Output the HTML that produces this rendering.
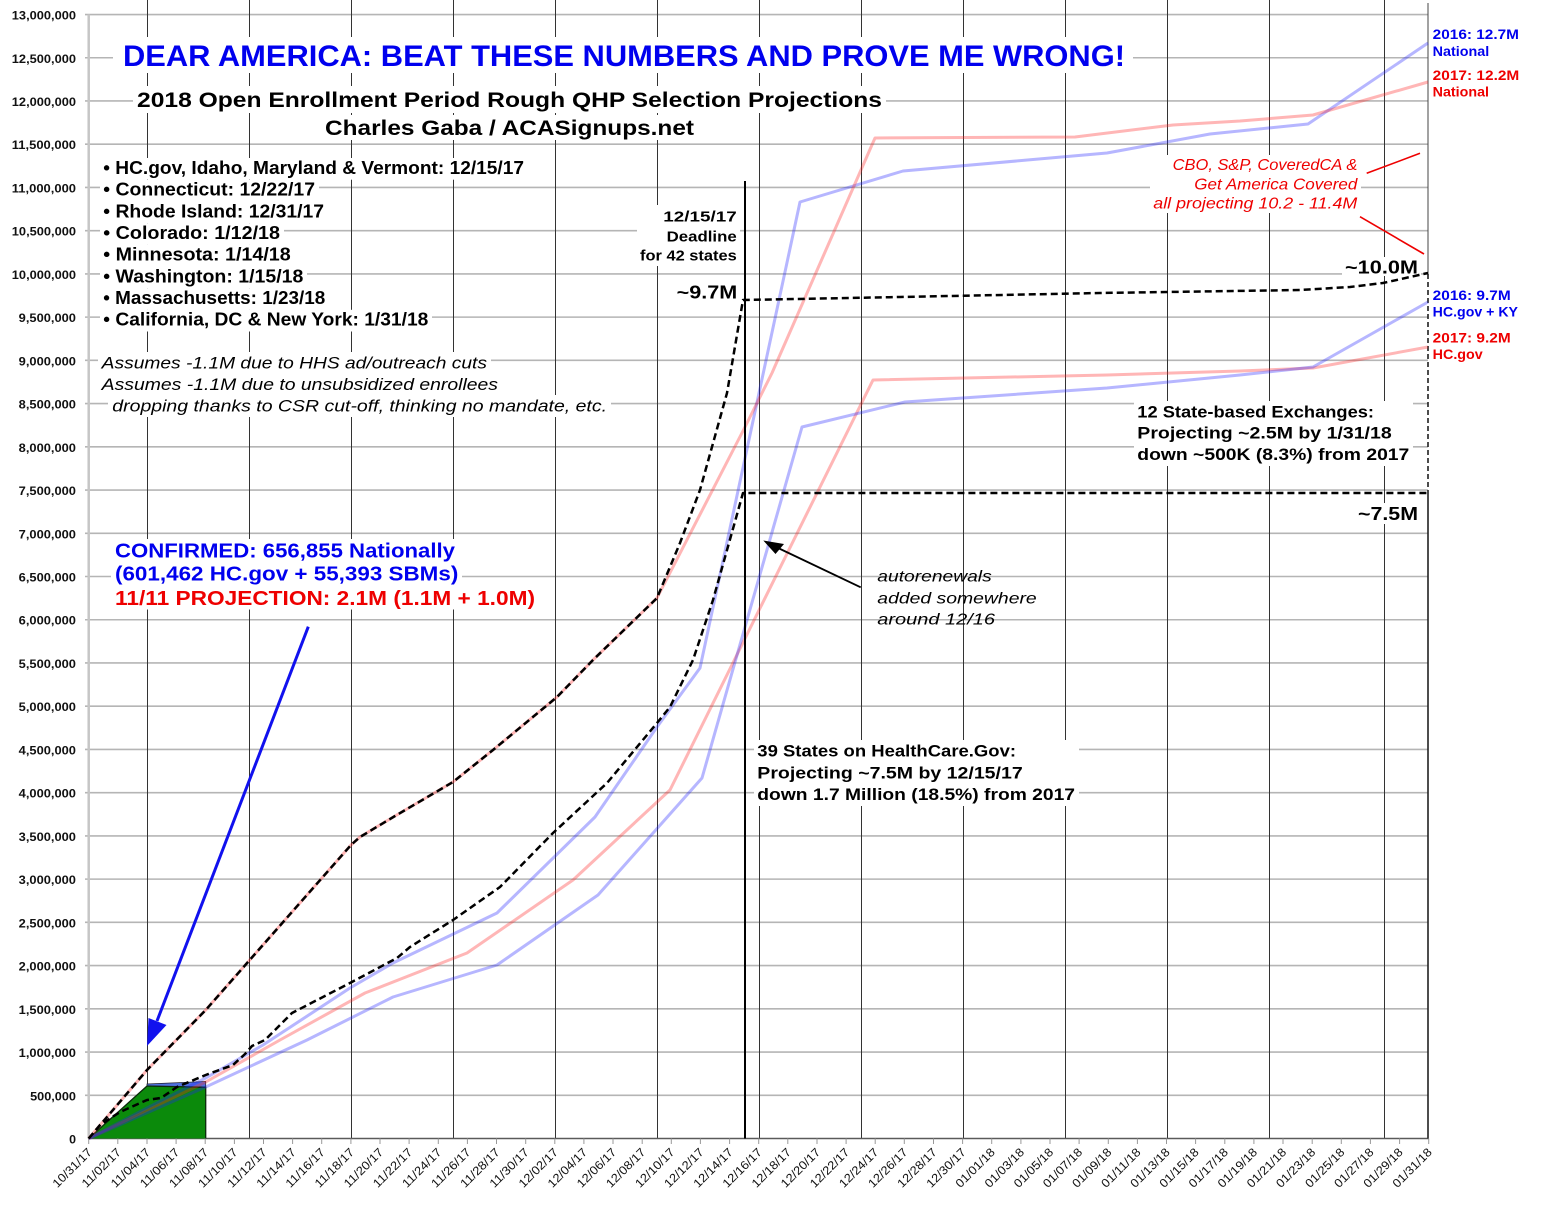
<!DOCTYPE html>
<html><head><meta charset="utf-8"><style>
html,body{margin:0;padding:0;background:#fff;}
svg{display:block;font-family:"Liberation Sans",Arial,sans-serif;}
</style></head><body>
<svg width="1550" height="1214" viewBox="0 0 1550 1214" xmlns="http://www.w3.org/2000/svg">
<rect x="0" y="0" width="1550" height="1214" fill="#fff"/>
<!-- horizontal gridlines -->
<g stroke="#b5b5b5" stroke-width="1.6">
<line x1="85" y1="1095.27" x2="1428" y2="1095.27"/><line x1="85" y1="1052.04" x2="1428" y2="1052.04"/>
<line x1="85" y1="1008.81" x2="1428" y2="1008.81"/><line x1="85" y1="965.58" x2="1428" y2="965.58"/>
<line x1="85" y1="922.35" x2="1428" y2="922.35"/><line x1="85" y1="879.12" x2="1428" y2="879.12"/>
<line x1="85" y1="835.89" x2="1428" y2="835.89"/><line x1="85" y1="792.66" x2="1428" y2="792.66"/>
<line x1="85" y1="749.43" x2="1428" y2="749.43"/><line x1="85" y1="706.2" x2="1428" y2="706.2"/>
<line x1="85" y1="662.97" x2="1428" y2="662.97"/><line x1="85" y1="619.74" x2="1428" y2="619.74"/>
<line x1="85" y1="576.51" x2="1428" y2="576.51"/><line x1="85" y1="533.28" x2="1428" y2="533.28"/>
<line x1="85" y1="490.05" x2="1428" y2="490.05"/><line x1="85" y1="446.82" x2="1428" y2="446.82"/>
<line x1="85" y1="403.59" x2="1428" y2="403.59"/><line x1="85" y1="360.36" x2="1428" y2="360.36"/>
<line x1="85" y1="317.13" x2="1428" y2="317.13"/><line x1="85" y1="273.9" x2="1428" y2="273.9"/>
<line x1="85" y1="230.67" x2="1428" y2="230.67"/><line x1="85" y1="187.44" x2="1428" y2="187.44"/>
<line x1="85" y1="144.21" x2="1428" y2="144.21"/><line x1="85" y1="100.98" x2="1428" y2="100.98"/>
<line x1="85" y1="57.75" x2="1428" y2="57.75"/><line x1="85" y1="14.52" x2="1428" y2="14.52"/>
</g>
<!-- vertical gridlines -->
<g stroke="#333" stroke-width="1">
<line x1="147.5" y1="0" x2="147.5" y2="1138.5"/><line x1="249.5" y1="0" x2="249.5" y2="1138.5"/>
<line x1="351.5" y1="0" x2="351.5" y2="1138.5"/><line x1="453.5" y1="0" x2="453.5" y2="1138.5"/>
<line x1="555.5" y1="0" x2="555.5" y2="1138.5"/><line x1="657.5" y1="0" x2="657.5" y2="1138.5"/>
<line x1="759.5" y1="0" x2="759.5" y2="1138.5"/><line x1="861.5" y1="0" x2="861.5" y2="1138.5"/>
<line x1="963.5" y1="0" x2="963.5" y2="1138.5"/><line x1="1065.5" y1="0" x2="1065.5" y2="1138.5"/>
<line x1="1167.5" y1="0" x2="1167.5" y2="1138.5"/><line x1="1269.5" y1="0" x2="1269.5" y2="1138.5"/>
<line x1="1384.5" y1="0" x2="1384.5" y2="1138.5"/>
</g>
<!-- axes -->
<line x1="88.7" y1="14.5" x2="88.7" y2="1138.5" stroke="#c6c6c6" stroke-width="2.5"/>
<line x1="88.7" y1="1138.5" x2="1428.5" y2="1138.5" stroke="#5a5a5a" stroke-width="1.6"/>
<line x1="1428" y1="3" x2="1428" y2="274" stroke="#444" stroke-width="1"/>
<line x1="1428" y1="274" x2="1428" y2="493" stroke="#111" stroke-width="1.5" stroke-dasharray="5 3"/>
<line x1="1428" y1="493" x2="1428" y2="1138.5" stroke="#222" stroke-width="1.6"/>
<!-- x ticks -->
<g stroke="#999" stroke-width="1">
<line x1="88.7" y1="1138.5" x2="88.7" y2="1144"/><line x1="117.8" y1="1138.5" x2="117.8" y2="1144"/><line x1="147" y1="1138.5" x2="147" y2="1144"/><line x1="176.1" y1="1138.5" x2="176.1" y2="1144"/><line x1="205.2" y1="1138.5" x2="205.2" y2="1144"/><line x1="234.4" y1="1138.5" x2="234.4" y2="1144"/><line x1="263.5" y1="1138.5" x2="263.5" y2="1144"/><line x1="292.6" y1="1138.5" x2="292.6" y2="1144"/><line x1="321.7" y1="1138.5" x2="321.7" y2="1144"/><line x1="350.9" y1="1138.5" x2="350.9" y2="1144"/><line x1="380" y1="1138.5" x2="380" y2="1144"/><line x1="409.1" y1="1138.5" x2="409.1" y2="1144"/><line x1="438.3" y1="1138.5" x2="438.3" y2="1144"/><line x1="467.4" y1="1138.5" x2="467.4" y2="1144"/><line x1="496.5" y1="1138.5" x2="496.5" y2="1144"/><line x1="525.7" y1="1138.5" x2="525.7" y2="1144"/><line x1="554.8" y1="1138.5" x2="554.8" y2="1144"/><line x1="583.9" y1="1138.5" x2="583.9" y2="1144"/><line x1="613" y1="1138.5" x2="613" y2="1144"/><line x1="642.2" y1="1138.5" x2="642.2" y2="1144"/><line x1="671.3" y1="1138.5" x2="671.3" y2="1144"/><line x1="700.4" y1="1138.5" x2="700.4" y2="1144"/><line x1="729.6" y1="1138.5" x2="729.6" y2="1144"/><line x1="758.7" y1="1138.5" x2="758.7" y2="1144"/><line x1="787.8" y1="1138.5" x2="787.8" y2="1144"/><line x1="817" y1="1138.5" x2="817" y2="1144"/><line x1="846.1" y1="1138.5" x2="846.1" y2="1144"/><line x1="875.2" y1="1138.5" x2="875.2" y2="1144"/><line x1="904.3" y1="1138.5" x2="904.3" y2="1144"/><line x1="933.5" y1="1138.5" x2="933.5" y2="1144"/><line x1="962.6" y1="1138.5" x2="962.6" y2="1144"/><line x1="991.7" y1="1138.5" x2="991.7" y2="1144"/><line x1="1020.9" y1="1138.5" x2="1020.9" y2="1144"/><line x1="1050" y1="1138.5" x2="1050" y2="1144"/><line x1="1079.1" y1="1138.5" x2="1079.1" y2="1144"/><line x1="1108.3" y1="1138.5" x2="1108.3" y2="1144"/><line x1="1137.4" y1="1138.5" x2="1137.4" y2="1144"/><line x1="1166.5" y1="1138.5" x2="1166.5" y2="1144"/><line x1="1195.6" y1="1138.5" x2="1195.6" y2="1144"/><line x1="1224.8" y1="1138.5" x2="1224.8" y2="1144"/><line x1="1253.9" y1="1138.5" x2="1253.9" y2="1144"/><line x1="1283" y1="1138.5" x2="1283" y2="1144"/><line x1="1312.2" y1="1138.5" x2="1312.2" y2="1144"/><line x1="1341.3" y1="1138.5" x2="1341.3" y2="1144"/><line x1="1370.4" y1="1138.5" x2="1370.4" y2="1144"/><line x1="1399.6" y1="1138.5" x2="1399.6" y2="1144"/><line x1="1428.7" y1="1138.5" x2="1428.7" y2="1144"/>
</g>

<!-- white text backgrounds -->
<g fill="#fff">
<rect x="113" y="37" width="1020" height="36"/>
<rect x="133" y="86" width="753" height="27"/>
<rect x="320" y="115" width="380" height="25"/>
<rect x="100" y="158" width="428" height="21.7"/>
<rect x="100" y="180" width="219" height="21.7"/>
<rect x="100" y="201.5" width="228" height="21.7"/>
<rect x="100" y="223.2" width="184" height="21.7"/>
<rect x="100" y="244.8" width="195" height="21.7"/>
<rect x="100" y="266.5" width="207" height="21.7"/>
<rect x="100" y="288.2" width="229" height="21.7"/>
<rect x="100" y="309.8" width="332" height="21.7"/>
<rect x="98" y="352" width="393" height="21.5"/>
<rect x="98" y="373.5" width="404" height="21.5"/>
<rect x="108" y="395" width="503" height="22"/>
<rect x="111" y="539" width="348" height="23"/>
<rect x="111" y="562" width="351" height="23.5"/>
<rect x="111" y="585.5" width="428" height="24"/>
<rect x="637" y="205" width="103" height="61"/>
<rect x="1150" y="155" width="211" height="58"/>
<rect x="1134" y="401" width="279" height="65"/>
<rect x="754" y="740" width="325" height="66"/>
<rect x="1342" y="257" width="79" height="19"/>
<rect x="1355" y="503" width="66" height="21"/>
</g>

<!-- confirmed area -->
<polygon points="88.7,1138.5 147,1086 205.7,1087.3 205.7,1138.5" fill="#0b8a0b"/>
<polygon points="147,1086 147,1084 205.7,1081.5 205.7,1087.3" fill="#4f70df" stroke="#223" stroke-width="0.8"/>
<polyline points="88.7,1138.5 147,1086 205.7,1087.3 205.7,1138.5" fill="none" stroke="#0b2a0b" stroke-width="1.3"/>

<!-- light series -->
<g fill="none" stroke-width="3" stroke-linejoin="round">
<path d="M88.7,1138.5 L205.7,1082 L280,1040 L365,993 L467,953 L573,880 L670,790 L873,380 L1107,375 L1240,371 L1313,368 L1428,347" stroke="#ff2222" stroke-opacity="0.33"/>
<path d="M88.7,1138.5 L205.7,1087 L307,1040 L393,997 L497,965 L598,895 L702,778 L802,427 L905,402 L1107,388 L1240,375 L1313,367 L1428,302" stroke="#2222ff" stroke-opacity="0.33"/>
<path d="M88.7,1138.5 L147,1108 L205.7,1078 L263,1045 L350,988 L393,963 L497,913 L595,817 L657,727 L700,668 L800,202 L903,171 L1107,153 L1210,134 L1308,124 L1428,43" stroke="#2222ff" stroke-opacity="0.33"/>
<path d="M88.7,1138.5 L147,1070 L205.7,1010 L351,845 L360,837 L395,816 L453,782 L493,750 L557,697 L593,660 L657,598 L745,427 L772,373 L875,138 L1075,137 L1173,125 L1240,121 L1313,115 L1428,82" stroke="#ff2222" stroke-opacity="0.33"/>
</g>

<!-- dashed projections -->
<g fill="none" stroke="#000" stroke-width="2.5" stroke-dasharray="7 4" stroke-linejoin="round">
<path d="M88.7,1138.5 L147,1070 L205.7,1010 L351,845 L360,837 L395,816 L453,782 L493,750 L557,697 L593,660 L657,598 L680,543 L700,490 L727,393 L743,300 L900,297 L1100,293 L1300,290 L1350,287 L1383,283 L1428,273"/>
<path d="M88.7,1138.5 L100,1125 L120,1112 L147,1100 L161,1098 L177,1087 L205.7,1075 L233,1065 L245,1054 L252,1046 L265,1040 L292,1013 L350,983 L397,958 L410,947 L453,920 L500,887 L553,833 L607,783 L657,723 L670,707 L693,660 L713,600 L743,493 L1428,493"/>
</g>

<!-- deadline line -->
<line x1="745" y1="181" x2="745" y2="1138.5" stroke="#000" stroke-width="2"/>

<!-- arrows -->
<line x1="308.3" y1="626.7" x2="157" y2="1021" stroke="#1111ee" stroke-width="3"/>
<polygon points="147,1046 148.5,1018 166.5,1025" fill="#1111ee"/>
<line x1="860.7" y1="587.3" x2="776" y2="547" stroke="#000" stroke-width="1.8"/>
<polygon points="763.3,540.5 784,544 775.5,554" fill="#000"/>
<line x1="1366.7" y1="173.3" x2="1420" y2="153.3" stroke="#e00" stroke-width="1.6"/>
<line x1="1360" y1="216.7" x2="1424" y2="254" stroke="#e00" stroke-width="1.6"/>

<!-- y axis labels -->
<g font-size="11.5" font-weight="bold" fill="#111" text-anchor="end">
<text x="76" y="1143.5" textLength="6.9" lengthAdjust="spacingAndGlyphs">0</text>
<text x="76" y="1100.3" textLength="45.9" lengthAdjust="spacingAndGlyphs">500,000</text>
<text x="76" y="1057" textLength="57.3" lengthAdjust="spacingAndGlyphs">1,000,000</text>
<text x="76" y="1013.8" textLength="57.3" lengthAdjust="spacingAndGlyphs">1,500,000</text>
<text x="76" y="970.6" textLength="57.3" lengthAdjust="spacingAndGlyphs">2,000,000</text>
<text x="76" y="927.4" textLength="57.3" lengthAdjust="spacingAndGlyphs">2,500,000</text>
<text x="76" y="884.1" textLength="57.3" lengthAdjust="spacingAndGlyphs">3,000,000</text>
<text x="76" y="840.9" textLength="57.3" lengthAdjust="spacingAndGlyphs">3,500,000</text>
<text x="76" y="797.7" textLength="57.3" lengthAdjust="spacingAndGlyphs">4,000,000</text>
<text x="76" y="754.4" textLength="57.3" lengthAdjust="spacingAndGlyphs">4,500,000</text>
<text x="76" y="711.2" textLength="57.3" lengthAdjust="spacingAndGlyphs">5,000,000</text>
<text x="76" y="668" textLength="57.3" lengthAdjust="spacingAndGlyphs">5,500,000</text>
<text x="76" y="624.7" textLength="57.3" lengthAdjust="spacingAndGlyphs">6,000,000</text>
<text x="76" y="581.5" textLength="57.3" lengthAdjust="spacingAndGlyphs">6,500,000</text>
<text x="76" y="538.3" textLength="57.3" lengthAdjust="spacingAndGlyphs">7,000,000</text>
<text x="76" y="495" textLength="57.3" lengthAdjust="spacingAndGlyphs">7,500,000</text>
<text x="76" y="451.8" textLength="57.3" lengthAdjust="spacingAndGlyphs">8,000,000</text>
<text x="76" y="408.6" textLength="57.3" lengthAdjust="spacingAndGlyphs">8,500,000</text>
<text x="76" y="365.4" textLength="57.3" lengthAdjust="spacingAndGlyphs">9,000,000</text>
<text x="76" y="322.1" textLength="57.3" lengthAdjust="spacingAndGlyphs">9,500,000</text>
<text x="76" y="278.9" textLength="64.2" lengthAdjust="spacingAndGlyphs">10,000,000</text>
<text x="76" y="235.7" textLength="64.2" lengthAdjust="spacingAndGlyphs">10,500,000</text>
<text x="76" y="192.4" textLength="64.2" lengthAdjust="spacingAndGlyphs">11,000,000</text>
<text x="76" y="149.2" textLength="64.2" lengthAdjust="spacingAndGlyphs">11,500,000</text>
<text x="76" y="106" textLength="64.2" lengthAdjust="spacingAndGlyphs">12,000,000</text>
<text x="76" y="62.8" textLength="64.2" lengthAdjust="spacingAndGlyphs">12,500,000</text>
<text x="76" y="19.5" textLength="64.2" lengthAdjust="spacingAndGlyphs">13,000,000</text>
</g>

<!-- x axis labels -->
<g font-size="12" fill="#111" text-anchor="end">
<text transform="translate(92.7,1153) rotate(-45)" textLength="50" lengthAdjust="spacingAndGlyphs">10/31/17</text>
<text transform="translate(121.8,1153) rotate(-45)" textLength="50" lengthAdjust="spacingAndGlyphs">11/02/17</text>
<text transform="translate(151,1153) rotate(-45)" textLength="50" lengthAdjust="spacingAndGlyphs">11/04/17</text>
<text transform="translate(180.1,1153) rotate(-45)" textLength="50" lengthAdjust="spacingAndGlyphs">11/06/17</text>
<text transform="translate(209.2,1153) rotate(-45)" textLength="50" lengthAdjust="spacingAndGlyphs">11/08/17</text>
<text transform="translate(238.4,1153) rotate(-45)" textLength="50" lengthAdjust="spacingAndGlyphs">11/10/17</text>
<text transform="translate(267.5,1153) rotate(-45)" textLength="50" lengthAdjust="spacingAndGlyphs">11/12/17</text>
<text transform="translate(296.6,1153) rotate(-45)" textLength="50" lengthAdjust="spacingAndGlyphs">11/14/17</text>
<text transform="translate(325.7,1153) rotate(-45)" textLength="50" lengthAdjust="spacingAndGlyphs">11/16/17</text>
<text transform="translate(354.9,1153) rotate(-45)" textLength="50" lengthAdjust="spacingAndGlyphs">11/18/17</text>
<text transform="translate(384,1153) rotate(-45)" textLength="50" lengthAdjust="spacingAndGlyphs">11/20/17</text>
<text transform="translate(413.1,1153) rotate(-45)" textLength="50" lengthAdjust="spacingAndGlyphs">11/22/17</text>
<text transform="translate(442.3,1153) rotate(-45)" textLength="50" lengthAdjust="spacingAndGlyphs">11/24/17</text>
<text transform="translate(471.4,1153) rotate(-45)" textLength="50" lengthAdjust="spacingAndGlyphs">11/26/17</text>
<text transform="translate(500.5,1153) rotate(-45)" textLength="50" lengthAdjust="spacingAndGlyphs">11/28/17</text>
<text transform="translate(529.7,1153) rotate(-45)" textLength="50" lengthAdjust="spacingAndGlyphs">11/30/17</text>
<text transform="translate(558.8,1153) rotate(-45)" textLength="50" lengthAdjust="spacingAndGlyphs">12/02/17</text>
<text transform="translate(587.9,1153) rotate(-45)" textLength="50" lengthAdjust="spacingAndGlyphs">12/04/17</text>
<text transform="translate(617,1153) rotate(-45)" textLength="50" lengthAdjust="spacingAndGlyphs">12/06/17</text>
<text transform="translate(646.2,1153) rotate(-45)" textLength="50" lengthAdjust="spacingAndGlyphs">12/08/17</text>
<text transform="translate(675.3,1153) rotate(-45)" textLength="50" lengthAdjust="spacingAndGlyphs">12/10/17</text>
<text transform="translate(704.4,1153) rotate(-45)" textLength="50" lengthAdjust="spacingAndGlyphs">12/12/17</text>
<text transform="translate(733.6,1153) rotate(-45)" textLength="50" lengthAdjust="spacingAndGlyphs">12/14/17</text>
<text transform="translate(762.7,1153) rotate(-45)" textLength="50" lengthAdjust="spacingAndGlyphs">12/16/17</text>
<text transform="translate(791.8,1153) rotate(-45)" textLength="50" lengthAdjust="spacingAndGlyphs">12/18/17</text>
<text transform="translate(821,1153) rotate(-45)" textLength="50" lengthAdjust="spacingAndGlyphs">12/20/17</text>
<text transform="translate(850.1,1153) rotate(-45)" textLength="50" lengthAdjust="spacingAndGlyphs">12/22/17</text>
<text transform="translate(879.2,1153) rotate(-45)" textLength="50" lengthAdjust="spacingAndGlyphs">12/24/17</text>
<text transform="translate(908.3,1153) rotate(-45)" textLength="50" lengthAdjust="spacingAndGlyphs">12/26/17</text>
<text transform="translate(937.5,1153) rotate(-45)" textLength="50" lengthAdjust="spacingAndGlyphs">12/28/17</text>
<text transform="translate(966.6,1153) rotate(-45)" textLength="50" lengthAdjust="spacingAndGlyphs">12/30/17</text>
<text transform="translate(995.7,1153) rotate(-45)" textLength="50" lengthAdjust="spacingAndGlyphs">01/01/18</text>
<text transform="translate(1024.9,1153) rotate(-45)" textLength="50" lengthAdjust="spacingAndGlyphs">01/03/18</text>
<text transform="translate(1054,1153) rotate(-45)" textLength="50" lengthAdjust="spacingAndGlyphs">01/05/18</text>
<text transform="translate(1083.1,1153) rotate(-45)" textLength="50" lengthAdjust="spacingAndGlyphs">01/07/18</text>
<text transform="translate(1112.3,1153) rotate(-45)" textLength="50" lengthAdjust="spacingAndGlyphs">01/09/18</text>
<text transform="translate(1141.4,1153) rotate(-45)" textLength="50" lengthAdjust="spacingAndGlyphs">01/11/18</text>
<text transform="translate(1170.5,1153) rotate(-45)" textLength="50" lengthAdjust="spacingAndGlyphs">01/13/18</text>
<text transform="translate(1199.6,1153) rotate(-45)" textLength="50" lengthAdjust="spacingAndGlyphs">01/15/18</text>
<text transform="translate(1228.8,1153) rotate(-45)" textLength="50" lengthAdjust="spacingAndGlyphs">01/17/18</text>
<text transform="translate(1257.9,1153) rotate(-45)" textLength="50" lengthAdjust="spacingAndGlyphs">01/19/18</text>
<text transform="translate(1287,1153) rotate(-45)" textLength="50" lengthAdjust="spacingAndGlyphs">01/21/18</text>
<text transform="translate(1316.2,1153) rotate(-45)" textLength="50" lengthAdjust="spacingAndGlyphs">01/23/18</text>
<text transform="translate(1345.3,1153) rotate(-45)" textLength="50" lengthAdjust="spacingAndGlyphs">01/25/18</text>
<text transform="translate(1374.4,1153) rotate(-45)" textLength="50" lengthAdjust="spacingAndGlyphs">01/27/18</text>
<text transform="translate(1403.6,1153) rotate(-45)" textLength="50" lengthAdjust="spacingAndGlyphs">01/29/18</text>
<text transform="translate(1432.7,1153) rotate(-45)" textLength="50" lengthAdjust="spacingAndGlyphs">01/31/18</text>
</g>

<!-- titles -->
<text x="123" y="66" font-size="30" font-weight="bold" fill="#0000ee" textLength="1002" lengthAdjust="spacingAndGlyphs">DEAR AMERICA: BEAT THESE NUMBERS AND PROVE ME WRONG!</text>
<text x="137" y="107" font-size="21" font-weight="bold" fill="#000" textLength="745" lengthAdjust="spacingAndGlyphs">2018 Open Enrollment Period Rough QHP Selection Projections</text>
<text x="325" y="135" font-size="21" font-weight="bold" fill="#000" textLength="369" lengthAdjust="spacingAndGlyphs">Charles Gaba / ACASignups.net</text>

<!-- bullets -->
<g font-size="18" font-weight="bold" fill="#000">
<text x="103.3" y="174" textLength="420.7" lengthAdjust="spacingAndGlyphs">• HC.gov, Idaho, Maryland &amp; Vermont: 12/15/17</text>
<text x="103.3" y="195.7" textLength="211.7" lengthAdjust="spacingAndGlyphs">• Connecticut: 12/22/17</text>
<text x="103.3" y="217.3" textLength="220.7" lengthAdjust="spacingAndGlyphs">• Rhode Island: 12/31/17</text>
<text x="103.3" y="239" textLength="176.7" lengthAdjust="spacingAndGlyphs">• Colorado: 1/12/18</text>
<text x="103.3" y="260.7" textLength="187.4" lengthAdjust="spacingAndGlyphs">• Minnesota: 1/14/18</text>
<text x="103.3" y="282.3" textLength="200" lengthAdjust="spacingAndGlyphs">• Washington: 1/15/18</text>
<text x="103.3" y="304" textLength="222" lengthAdjust="spacingAndGlyphs">• Massachusetts: 1/23/18</text>
<text x="103.3" y="325.7" textLength="325" lengthAdjust="spacingAndGlyphs">• California, DC &amp; New York: 1/31/18</text>
</g>

<!-- assumptions -->
<g font-size="17" font-style="italic" fill="#000">
<text x="101.7" y="368.3" textLength="385.3" lengthAdjust="spacingAndGlyphs">Assumes -1.1M due to HHS ad/outreach cuts</text>
<text x="101.7" y="390" textLength="396.3" lengthAdjust="spacingAndGlyphs">Assumes -1.1M due to unsubsidized enrollees</text>
<text x="112.3" y="411.3" textLength="494.7" lengthAdjust="spacingAndGlyphs">dropping thanks to CSR cut-off, thinking no mandate, etc.</text>
</g>

<!-- confirmed -->
<g font-size="20" font-weight="bold">
<text x="115" y="557.7" fill="#0000ee" textLength="340" lengthAdjust="spacingAndGlyphs">CONFIRMED: 656,855 Nationally</text>
<text x="115" y="580.7" fill="#0000ee" textLength="343.3" lengthAdjust="spacingAndGlyphs">(601,462 HC.gov + 55,393 SBMs)</text>
<text x="115" y="605" fill="#ee0000" textLength="420" lengthAdjust="spacingAndGlyphs">11/11 PROJECTION: 2.1M (1.1M + 1.0M)</text>
</g>

<!-- deadline -->
<g font-size="15" font-weight="bold" fill="#000" text-anchor="end">
<text x="736.7" y="221.7" textLength="73.4" lengthAdjust="spacingAndGlyphs">12/15/17</text>
<text x="736.7" y="241.7" textLength="70" lengthAdjust="spacingAndGlyphs">Deadline</text>
<text x="736.7" y="260.7" textLength="96.7" lengthAdjust="spacingAndGlyphs">for 42 states</text>
</g>
<g font-size="18" font-weight="bold" fill="#000" text-anchor="end">
<text x="737.3" y="298.3" textLength="60.6" lengthAdjust="spacingAndGlyphs">~9.7M</text>
<text x="1418" y="273.3" textLength="73" lengthAdjust="spacingAndGlyphs">~10.0M</text>
<text x="1418" y="520" textLength="60" lengthAdjust="spacingAndGlyphs">~7.5M</text>
</g>

<!-- right labels -->
<g font-size="13.5" font-weight="bold">
<text x="1432.7" y="39" fill="#0000ee" textLength="86.3" lengthAdjust="spacingAndGlyphs">2016: 12.7M</text>
<text x="1432.7" y="56" fill="#0000ee" textLength="56.6" lengthAdjust="spacingAndGlyphs">National</text>
<text x="1432.7" y="80" fill="#ee0000" textLength="86.6" lengthAdjust="spacingAndGlyphs">2017: 12.2M</text>
<text x="1432.7" y="96.7" fill="#ee0000" textLength="56.3" lengthAdjust="spacingAndGlyphs">National</text>
<text x="1432.7" y="300" fill="#0000ee" textLength="78" lengthAdjust="spacingAndGlyphs">2016: 9.7M</text>
<text x="1432.7" y="316.7" fill="#0000ee" textLength="85.3" lengthAdjust="spacingAndGlyphs">HC.gov + KY</text>
<text x="1432.7" y="342.3" fill="#ee0000" textLength="78" lengthAdjust="spacingAndGlyphs">2017: 9.2M</text>
<text x="1432.7" y="359" fill="#ee0000" textLength="50" lengthAdjust="spacingAndGlyphs">HC.gov</text>
</g>

<!-- red italic annotation -->
<g font-size="16" font-style="italic" fill="#ee0000" text-anchor="end">
<text x="1357.3" y="170" textLength="184.6" lengthAdjust="spacingAndGlyphs">CBO, S&amp;P, CoveredCA &amp;</text>
<text x="1357.3" y="189.3" textLength="163" lengthAdjust="spacingAndGlyphs">Get America Covered</text>
<text x="1357.3" y="208.3" textLength="204" lengthAdjust="spacingAndGlyphs">all projecting 10.2 - 11.4M</text>
</g>

<!-- state-based -->
<g font-size="17" font-weight="bold" fill="#000">
<text x="1137.3" y="417.3" textLength="236.7" lengthAdjust="spacingAndGlyphs">12 State-based Exchanges:</text>
<text x="1137.3" y="438.3" textLength="254.4" lengthAdjust="spacingAndGlyphs">Projecting ~2.5M by 1/31/18</text>
<text x="1137.3" y="460" textLength="272" lengthAdjust="spacingAndGlyphs">down ~500K (8.3%) from 2017</text>
</g>

<!-- autorenewals -->
<g font-size="16" font-style="italic" fill="#000">
<text x="877.3" y="581.7" textLength="114.4" lengthAdjust="spacingAndGlyphs">autorenewals</text>
<text x="877.3" y="603.3" textLength="159.4" lengthAdjust="spacingAndGlyphs">added somewhere</text>
<text x="877.3" y="624.3" textLength="117.7" lengthAdjust="spacingAndGlyphs">around 12/16</text>
</g>

<!-- HealthCare.Gov -->
<g font-size="17" font-weight="bold" fill="#000">
<text x="757.3" y="756.7" textLength="258.7" lengthAdjust="spacingAndGlyphs">39 States on HealthCare.Gov:</text>
<text x="757.3" y="778.3" textLength="265.4" lengthAdjust="spacingAndGlyphs">Projecting ~7.5M by 12/15/17</text>
<text x="757.3" y="800" textLength="317.7" lengthAdjust="spacingAndGlyphs">down 1.7 Million (18.5%) from 2017</text>
</g>
</svg>
</body></html>
